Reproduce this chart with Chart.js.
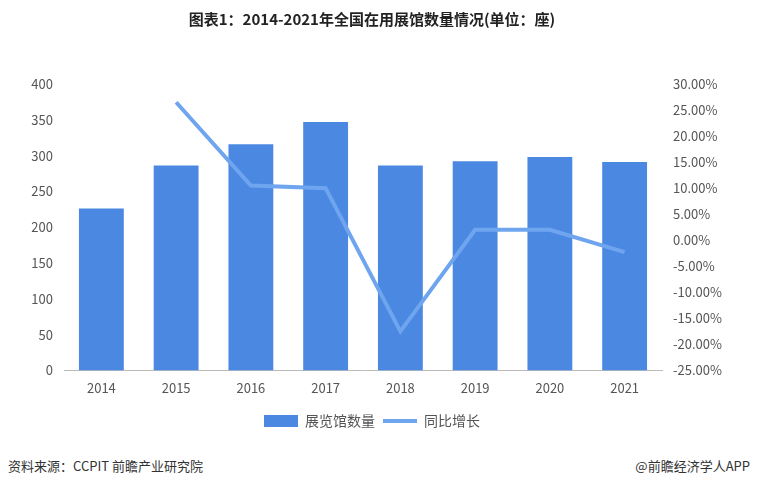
<!DOCTYPE html>
<html><head><meta charset="utf-8">
<script src="https://cdn.jsdelivr.net/npm/chart.js@4"></script>
<style>
body{margin:0;width:760px;height:486px;background:#fff;font-family:"Noto Sans CJK SC","Noto Sans",sans-serif;position:relative;overflow:hidden}
#wrap{position:absolute;left:0;top:0;width:760px;height:446px}
.ft{position:absolute;top:456px;font-size:13px;color:#333}
</style></head><body>
<div id="wrap"><canvas id="c"></canvas></div>
<div class="ft" style="left:8px">资料来源：CCPIT 前瞻产业研究院</div>
<div class="ft" style="right:10px">@前瞻经济学人APP</div>
<script>
const categories=["2014","2015","2016","2017","2018","2019","2020","2021"];
const countValues=[226,286,316,347,286,292,298,291];
const growthValues=[null,26.5,10.5,10.0,-17.5,2.0,2.0,-2.3];
const font="'Noto Sans CJK SC','Noto Sans',sans-serif";
new Chart(document.getElementById('c'),{
 data:{labels:categories,datasets:[
  {type:'bar',label:'展览馆数量',data:countValues,backgroundColor:'#4a88e2',yAxisID:'y',barPercentage:0.6,categoryPercentage:1,order:2,pointStyle:'rect'},
  {type:'line',label:'同比增长',data:growthValues,borderColor:'#6fa5ee',backgroundColor:'#6fa5ee',borderWidth:4,pointRadius:0,pointStyle:'line',yAxisID:'y1',order:1,tension:0}
 ]},
 options:{responsive:true,maintainAspectRatio:false,animation:false,
  layout:{padding:{left:4,right:20,top:0,bottom:8}},
  plugins:{
   title:{display:true,text:'图表1：2014-2021年全国在用展馆数量情况(单位：座)',color:'#222',font:{family:font,size:15,weight:'bold'},padding:{top:10,bottom:56}},
   legend:{position:'bottom',labels:{usePointStyle:true,pointStyleWidth:34,boxHeight:12,color:'#555',font:{family:font,size:14},padding:8,sort:(a,b)=>a.datasetIndex-b.datasetIndex}},
   tooltip:{enabled:false}},
  scales:{
   x:{grid:{display:false,drawTicks:false},border:{color:'#bbb'},ticks:{color:'#555',font:{family:font,size:13},padding:10}},
   y:{position:'left',min:0,max:400,ticks:{stepSize:50,color:'#555',font:{family:font,size:13}},grid:{display:false},border:{display:false},afterFit:a=>{a.width=60}},
   y1:{position:'right',min:-25,max:30,ticks:{stepSize:5,color:'#555',font:{family:font,size:13},callback:v=>v.toFixed(2)+'%'},grid:{display:false},border:{display:false},afterFit:a=>{a.width=78}}
  }}
});
</script></body></html>
